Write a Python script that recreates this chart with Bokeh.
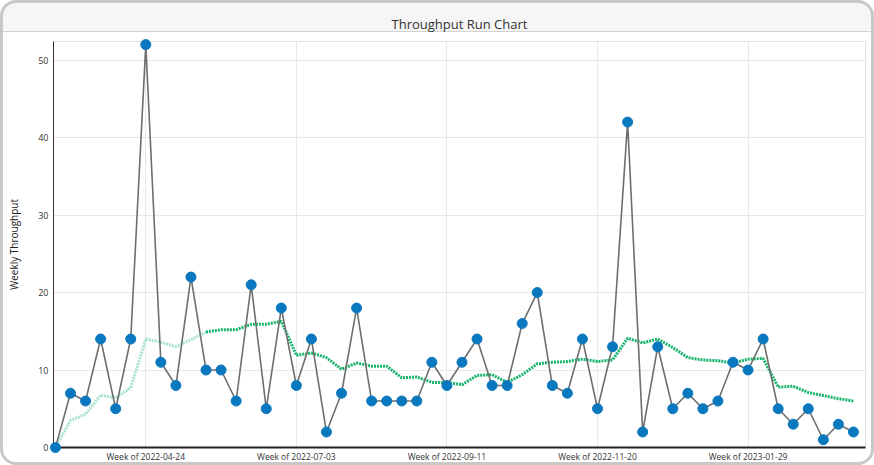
from bokeh.plotting import figure
from bokeh.models import FixedTicker
from bokeh.embed import file_html
from bokeh.resources import INLINE

# Weekly throughput values
throughput = [0, 7, 6, 14, 5, 14, 52, 11, 8, 22,
              10, 10, 6, 21, 5, 18, 8, 14, 2, 7,
              18, 6, 6, 6, 6, 11, 8, 11, 14, 8,
              8, 16, 20, 8, 7, 14, 5, 13, 42, 2,
              13, 5, 7, 5, 6, 11, 10, 14, 5, 3,
              5, 1, 3, 2]

# Early running average (light green), weeks 0..10
early_avg = [0.0, 3.5, 4.3, 6.75, 6.4, 7.7, 14.0, 13.6, 13.0, 13.9, 14.9]

# 10-week rolling average (dark green), weeks 10..53
rolling_avg = [14.9, 15.2, 15.2, 15.9, 15.9, 16.3, 11.9, 12.2, 11.6, 10.1,
               10.9, 10.5, 10.5, 9.0, 9.1, 8.4, 8.4, 8.1, 9.3, 9.4,
               8.4, 9.4, 10.8, 11.0, 11.1, 11.4, 11.1, 11.3, 14.1, 13.5,
               14.0, 12.9, 11.6, 11.3, 11.2, 10.9, 11.4, 11.5, 7.8, 7.9,
               7.1, 6.7, 6.3, 6.0]

tick_positions = [6, 16, 26, 36, 46]
tick_labels = ["Week of 2022-04-24", "Week of 2022-07-03", "Week of 2022-09-11",
               "Week of 2022-11-20", "Week of 2023-01-29"]
y_ticks = [0, 10, 20, 30, 40, 50]

FONT = "Open Sans"

x_all = list(range(len(throughput)))
x_early = list(range(len(early_avg)))
x_roll = list(range(len(throughput) - len(rolling_avg), len(throughput)))

p = figure(width=874, height=465, output_backend="svg", toolbar_location=None,
           x_range=(-0.13, 53.8), y_range=(0, 52.4),
           title="Throughput Run Chart",
           min_border_left=50, min_border_right=12, min_border_top=35, min_border_bottom=21,
           styles={"border": "3px solid #c8c8c8", "border-radius": "16px",
                   "overflow": "hidden",
                   "background": "linear-gradient(to bottom, #f6f6f6 0px, #f6f6f6 28px, "
                                 "#d2d2d2 28px, #d2d2d2 29px, #ffffff 29px)"})

p.background_fill_color = "white"
p.border_fill_color = None
p.outline_line_color = "#e3e3e3"

p.title.align = "center"
p.title.text_font = FONT
p.title.text_font_style = "normal"
p.title.text_font_size = "13px"
p.title.text_color = "#333333"
p.title.standoff = 18

p.line(x_early, early_avg, line_color="#a8e4cb", line_width=3, line_dash="2 1")
p.line(x_roll, rolling_avg, line_color="#16b36c", line_width=3, line_dash="2 1")
p.line(x_all, throughput, line_color="#6e6e6e", line_width=1.6)
p.scatter(x_all, throughput, size=10, fill_color="#0a78bf", line_color="#0a78bf", level="overlay")

p.xaxis.ticker = FixedTicker(ticks=tick_positions)
p.xaxis.major_label_overrides = {pos: lab for pos, lab in zip(tick_positions, tick_labels)}
p.yaxis.ticker = FixedTicker(ticks=y_ticks)

for ax in (p.xaxis, p.yaxis):
    ax.major_tick_out = 0
    ax.major_tick_in = 0
    ax.minor_tick_out = 0
    ax.minor_tick_in = 0
    ax.major_label_text_font = FONT
    ax.major_label_text_color = "#333333"
    ax.major_label_text_font_size = "9px"

p.xaxis.axis_line_color = "#222222"
p.xaxis.axis_line_width = 2
p.xaxis.major_label_standoff = 3
p.xaxis.major_label_text_font_size = "8.5px"
p.yaxis.axis_line_color = "#333333"
p.yaxis.axis_line_width = 1
p.yaxis.major_label_standoff = 5
p.yaxis.axis_label = "Weekly Throughput"
p.yaxis.axis_label_text_font = FONT
p.yaxis.axis_label_text_font_style = "normal"
p.yaxis.axis_label_text_font_size = "10px"
p.yaxis.axis_label_text_color = "#222222"
p.yaxis.axis_label_standoff = 14

p.xgrid.grid_line_color = "#e8e8e8"
p.ygrid.grid_line_color = "#e8e8e8"

open("out.html", "w").write(file_html(p, INLINE))
